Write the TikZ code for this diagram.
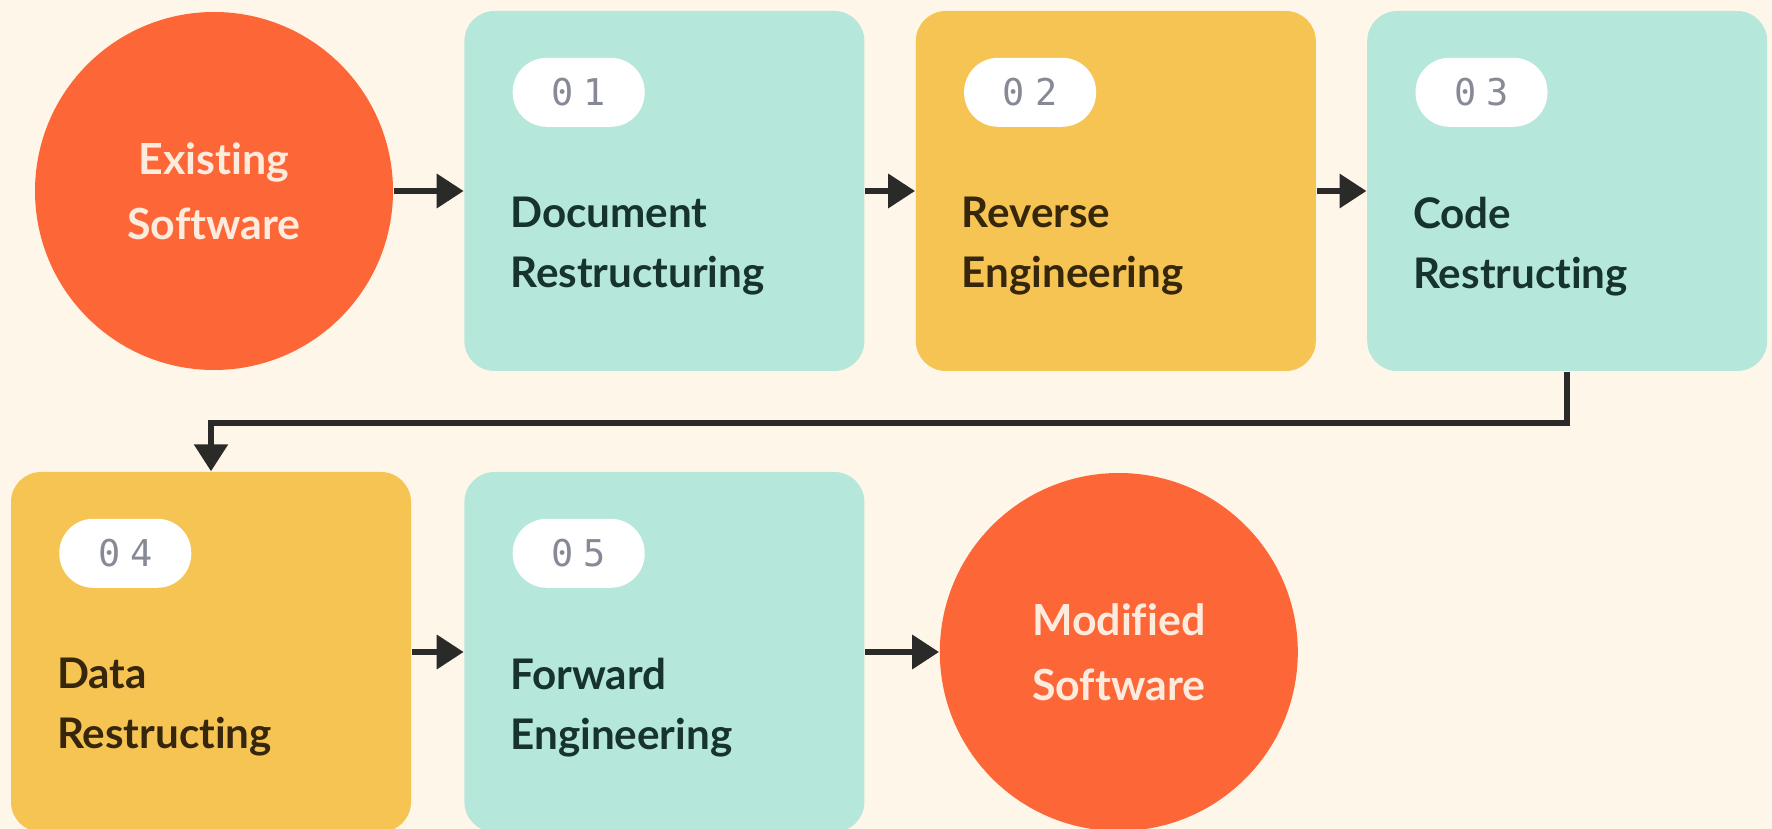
\documentclass[tikz,border=0pt]{standalone}
\usepackage{fontspec}
\setmainfont{Lato}[Ligatures=NoCommon]
\setmonofont{DejaVu Sans Mono}
\usepackage{tikz}
\usetikzlibrary{calc}
\usetikzlibrary{positioning}
\usetikzlibrary{arrows.meta}

\definecolor{bgcream}{HTML}{FEF7E9}
\definecolor{softorange}{HTML}{FD6738}
\definecolor{softtext}{HTML}{FDEBDD}
\definecolor{stepteal}{HTML}{B5E7DA}
\definecolor{stepgold}{HTML}{F5C453}
\definecolor{tealtext}{HTML}{17332F}
\definecolor{goldtext}{HTML}{36270C}
\definecolor{numgray}{HTML}{878A96}
\definecolor{arrowdark}{HTML}{2A2A28}

\tikzset{
  stepnode/.style = {rectangle, rounded corners=0.3cm, inner sep=0pt,
    minimum width=4cm, minimum height=3.6cm},
  teal_node/.style = {stepnode, fill=stepteal},
  gold_node/.style = {stepnode, fill=stepgold},
  soft_node/.style = {circle, fill=softorange, minimum size=3.58cm,
    inner sep=0pt, align=center, text=softtext,
    font=\bfseries\fontsize{12.2}{18.5}\selectfont},
  num_node/.style = {rectangle, rounded corners=0.34cm, fill=white,
    minimum width=1.32cm, minimum height=0.69cm, inner sep=0pt,
    text=numgray, font=\ttfamily\fontsize{10.5}{12}\selectfont},
  title_node/.style = {align=left, inner sep=0pt, anchor=north west,
    font=\bfseries\fontsize{12}{17}\selectfont},
  flow/.style = {draw=arrowdark, line width=1.9pt,
    -{Triangle[length=0.27cm, width=0.33cm]}}
}

\begin{document}
\begin{tikzpicture}
  \useasboundingbox (0,0) rectangle (17.72,-8.29);
  \fill[bgcream] (0,0) rectangle (17.72,-8.29);

  % top row
  \node [soft_node] (exist) at (2.14,-1.91) {Existing\\Software};
  \node [teal_node, right=0.70cm of exist] (docr) {};
  \node [gold_node, right=0.5cm of docr] (rev) {};
  \node [teal_node, right=0.5cm of rev] (code) {};

  % bottom row
  \node [gold_node] (data) at (2.11,-6.52) {};
  \node [teal_node, right=0.52cm of data] (fwd) {};
  \node [soft_node, right=0.74cm of fwd] (mod) {Modified\\Software};

  % numbers and titles
  \node [num_node] (n1) at ($(docr.north west)+(1.15,-0.82)$) {0\kern2.8pt1};
  \node [num_node] (n2) at ($(rev.north west)+(1.15,-0.82)$) {0\kern2.8pt2};
  \node [num_node] (n3) at ($(code.north west)+(1.15,-0.82)$) {0\kern2.8pt3};
  \node [num_node] (n4) at ($(data.north west)+(1.15,-0.82)$) {0\kern2.8pt4};
  \node [num_node] (n5) at ($(fwd.north west)+(1.15,-0.82)$) {0\kern2.8pt5};

  \node [title_node, text=tealtext] (t1) at ($(docr.north west)+(0.46,-1.86)$) {Document\\Restructuring};
  \node [title_node, text=goldtext] (t2) at ($(rev.north west)+(0.46,-1.86)$) {Reverse\\Engineering};
  \node [title_node, text=tealtext] (t3) at ($(code.north west)+(0.46,-1.86)$) {Code\\Restructing};
  \node [title_node, text=goldtext] (t4) at ($(data.north west)+(0.46,-1.86)$) {Data\\Restructing};
  \node [title_node, text=tealtext] (t5) at ($(fwd.north west)+(0.46,-1.86)$) {Forward\\Engineering};

  % connectors
  \draw [flow] (exist) -- (docr);
  \draw [flow] (docr) -- (rev);
  \draw [flow] (rev) -- (code);
  \draw [flow, line width=1.6pt] (code.south) -- ++(0,-0.51) -| (data.north);
  \draw [flow] (data) -- (fwd);
  \draw [flow] (fwd) -- (mod);
\end{tikzpicture}
\end{document}
